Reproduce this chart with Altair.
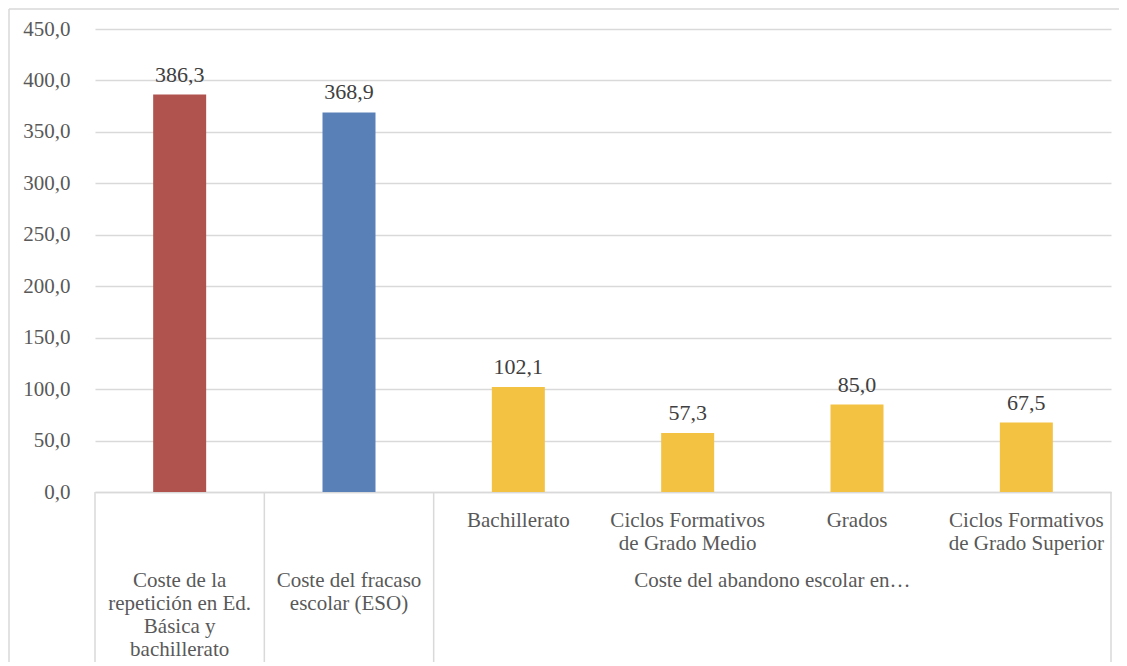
import altair as alt
import pandas as pd

categories = [
    "Coste de la\nrepetición en Ed.\nBásica y\nbachillerato",
    "Coste del fracaso\nescolar (ESO)",
    "Bachillerato",
    "Ciclos Formativos\nde Grado Medio",
    "Grados",
    "Ciclos Formativos\nde Grado Superior",
]
values = [386.3, 368.9, 102.1, 57.3, 85.0, 67.5]
groups = ["", "", "Coste del abandono escolar en…", "Coste del abandono escolar en…",
          "Coste del abandono escolar en…", "Coste del abandono escolar en…"]
bar_colors = ["#B0534F", "#5A80B8", "#F4C243", "#F4C243", "#F4C243", "#F4C243"]
y_ticks = [0, 50, 100, 150, 200, 250, 300, 350, 400, 450]

FONT = "'Liberation Serif', 'DejaVu Serif', serif"
GRID = "#d9d9d9"
W, H = 1016, 463

n = len(categories)
df = pd.DataFrame({
    "idx": list(range(n)),
    "cat": categories,
    "value": values,
    "label": [f"{v:.1f}".replace(".", ",") for v in values],
})

seps = []
for i in range(n):
    if i == 0 or groups[i] == "" or groups[i] != groups[i - 1]:
        seps.append(i - 0.5)
seps.append(n - 0.5)
df_sep = pd.DataFrame({"idx": seps})

df_row1 = pd.DataFrame({
    "idx": [i for i in range(n) if groups[i]],
    "lines": [categories[i].split("\n") for i in range(n) if groups[i]],
})
row2 = []
for i in range(n):
    if not groups[i]:
        row2.append((i, categories[i].split("\n")))
seen = []
for g in groups:
    if g and g not in seen:
        seen.append(g)
        ids = [i for i in range(n) if groups[i] == g]
        row2.append((sum(ids) / len(ids), g.split("\n")))
df_row2 = pd.DataFrame({"idx": [r[0] for r in row2], "lines": [r[1] for r in row2]})

x_axis = alt.Axis(labels=False, ticks=False, grid=False, domainColor=GRID,
                  domainWidth=1.5, title=None)
x_scale = alt.Scale(domain=[-0.5, n - 0.5], nice=False, zero=False, padding=0)


def xq():
    return alt.X("idx:Q", scale=x_scale, axis=x_axis)


y_axis = alt.Axis(values=y_ticks, domain=False, ticks=False, gridColor=GRID,
                  gridWidth=1.5, labelFont=FONT, labelFontSize=21,
                  labelColor="#595959", labelPadding=25, title=None,
                  labelExpr="replace(format(datum.value, '.1f'), '.', ',')")
y_scale = alt.Scale(domain=[0, 450], nice=False)

base = alt.Chart(df)

bars = base.mark_bar(size=53).encode(
    x=xq(),
    y=alt.Y("value:Q", scale=y_scale, axis=y_axis),
    color=alt.Color("cat:N", scale=alt.Scale(domain=categories, range=bar_colors), legend=None),
)

vals = base.mark_text(baseline="bottom", dy=-8, font=FONT, fontSize=22, color="#404040").encode(
    x=xq(),
    y=alt.Y("value:Q", scale=y_scale, axis=y_axis),
    text="label:N",
)

sep_rules = alt.Chart(df_sep).mark_rule(color=GRID, strokeWidth=1.5).encode(
    x=xq(), y=alt.value(H), y2=alt.value(H + 200)
)

row1 = alt.Chart(df_row1).mark_text(baseline="top", lineHeight=23, font=FONT,
                                    fontSize=21, color="#595959").encode(
    x=xq(), y=alt.value(H + 18), text="lines"
)
row2_t = alt.Chart(df_row2).mark_text(baseline="top", lineHeight=23, font=FONT,
                                      fontSize=21, color="#595959").encode(
    x=xq(), y=alt.value(H + 78), text="lines"
)

one = alt.Chart(pd.DataFrame({"a": [0]}))
top_border = one.mark_rule(color=GRID, strokeWidth=1.5).encode(
    x=alt.value(-86), x2=alt.value(W + 8), y=alt.value(-20)
)
left_border = one.mark_rule(color=GRID, strokeWidth=1.5).encode(
    x=alt.value(-86), y=alt.value(-20), y2=alt.value(H + 200)
)

chart = alt.layer(top_border, left_border, sep_rules, bars, vals, row1, row2_t).properties(
    width=W, height=H,
    autosize=alt.AutoSizeParams(type="none"),
    padding={"left": 87, "top": 21, "right": 8, "bottom": 170},
).configure_view(stroke=None)

chart.save("out.html", embed_options={"renderer": "svg", "actions": False})
